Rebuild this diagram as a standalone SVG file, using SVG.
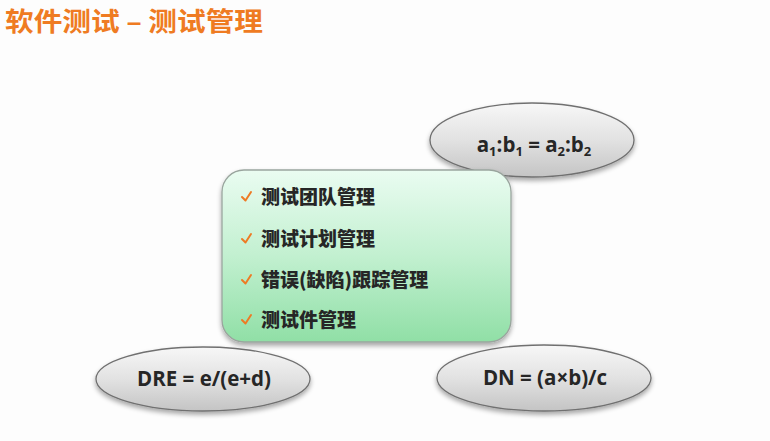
<svg xmlns="http://www.w3.org/2000/svg" width="770" height="441" viewBox="0 0 770 441">
  <defs>
    <linearGradient id="greyFill" x1="0" y1="0" x2="0" y2="1">
      <stop offset="0" stop-color="#f7f7f7"/>
      <stop offset="0.5" stop-color="#e2e2e2"/>
      <stop offset="1" stop-color="#c4c4c4"/>
    </linearGradient>
    <linearGradient id="greenFill" x1="0" y1="0" x2="0" y2="1">
      <stop offset="0" stop-color="#eafcf1"/>
      <stop offset="0.5" stop-color="#c2f0d0"/>
      <stop offset="1" stop-color="#90dfa6"/>
    </linearGradient>
    <filter id="shadow" x="-10%" y="-10%" width="120%" height="130%">
      <feGaussianBlur in="SourceAlpha" stdDeviation="2.5"/>
      <feOffset dx="0" dy="3" result="b"/>
      <feComponentTransfer><feFuncA type="linear" slope="0.35"/></feComponentTransfer>
      <feMerge><feMergeNode/><feMergeNode in="SourceGraphic"/></feMerge>
    </filter>
  </defs>
  <style>
    .title { font-family: "Noto Sans CJK SC", "Liberation Sans", sans-serif; font-weight: bold; font-size: 26px; fill: #ef7b22; }
    .oval { fill: url(#greyFill); stroke: #707070; stroke-width: 1.3; filter: url(#shadow); }
    .formula { font-family: "Open Sans", "Liberation Sans", sans-serif; font-weight: bold; font-size: 20.5px; fill: #262626; text-anchor: middle; }
    .panel { fill: url(#greenFill); stroke: #9aa59e; stroke-width: 1.3; filter: url(#shadow); }
    .item { font-family: "Noto Sans CJK SC", "Liberation Sans", sans-serif; font-weight: 900; font-size: 19px; fill: #262626; }
    .check { fill: none; stroke: #ee7a24; stroke-width: 2; stroke-linecap: round; stroke-linejoin: round; }
  </style>

  <rect width="770" height="441" fill="#fdfdfd"/>

  <!-- heading -->
  <text class="title" x="5" y="31" textLength="258" lengthAdjust="spacingAndGlyphs">软件测试 – 测试管理</text>

  <!-- proportion formula oval (top right) -->
  <g id="ratio">
    <ellipse class="oval" cx="532" cy="140" rx="102" ry="37"/>
    <text class="formula" x="534" y="152">a<tspan font-size="13" dy="4">1</tspan><tspan dy="-4">:b</tspan><tspan font-size="13" dy="4">1</tspan><tspan dy="-4"> = a</tspan><tspan font-size="13" dy="4">2</tspan><tspan dy="-4">:b</tspan><tspan font-size="13" dy="4">2</tspan></text>
  </g>

  <!-- removal efficiency oval (bottom left) -->
  <g id="dre">
    <ellipse class="oval" cx="203" cy="379" rx="107" ry="32"/>
    <text class="formula" x="204" y="386">DRE = e/(e+d)</text>
  </g>

  <!-- defect count oval (bottom right) -->
  <g id="dn">
    <ellipse class="oval" cx="544" cy="378" rx="107" ry="33"/>
    <text class="formula" x="545" y="385">DN = (a×b)/c</text>
  </g>

  <!-- management topics panel -->
  <g id="topics">
    <rect class="panel" x="222" y="170" width="289" height="172" rx="22" ry="22"/>
    <path class="check" d="M242 197 L245.5 200.5 L251 192"/>
    <text class="item" x="261" y="204">测试团队管理</text>
    <path class="check" d="M242 239 L245.5 242.5 L251 234"/>
    <text class="item" x="261" y="246">测试计划管理</text>
    <path class="check" d="M242 280 L245.5 283.5 L251 275"/>
    <text class="item" x="261" y="287">错误(缺陷)跟踪管理</text>
    <path class="check" d="M242 320 L245.5 323.5 L251 315"/>
    <text class="item" x="261" y="327">测试件管理</text>
  </g>

  <g id="connectors"/>
</svg>
